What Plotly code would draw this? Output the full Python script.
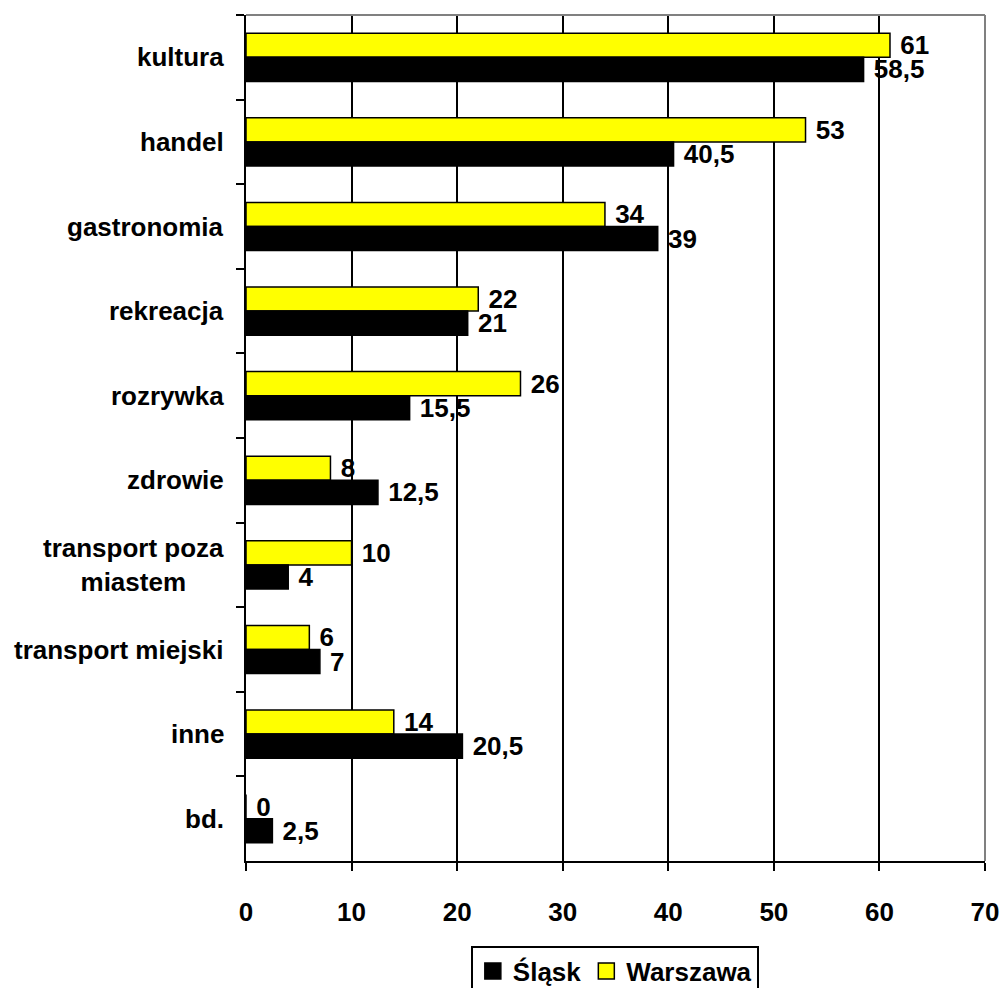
import plotly.graph_objects as go

# Categories (top to bottom) and the share for each region
categories = ["kultura", "handel", "gastronomia", "rekreacja", "rozrywka", "zdrowie",
              "transport poza miastem", "transport miejski", "inne", "bd."]
category_labels = ["kultura", "handel", "gastronomia", "rekreacja", "rozrywka", "zdrowie",
                   "transport poza<br>miastem", "transport miejski", "inne", "bd."]
warszawa = [61, 53, 34, 22, 26, 8, 10, 6, 14, 0]
slask = [58.5, 40.5, 39, 21, 15.5, 12.5, 4, 7, 20.5, 2.5]
x_ticks = [0, 10, 20, 30, 40, 50, 60, 70]

FONT = "Liberation Sans, Arial, sans-serif"
FS = 26


def fmt(v):
    # Polish decimal comma, with a non-breaking space as gap from the bar end
    return "\u00a0" + f"{v:g}".replace(".", ",")


fig = go.Figure()

# Warszawa first so it sits above Śląsk within each category (reversed axis)
fig.add_trace(go.Bar(
    y=categories, x=warszawa, orientation="h", name="Warszawa",
    marker=dict(color="#ffff00", line=dict(color="#000000", width=1.5)),
    text=[fmt(v) for v in warszawa], textposition="outside",
    textfont=dict(family=FONT, size=FS, color="#000000", weight="bold"),
    constraintext="none", cliponaxis=False, showlegend=False,
))
fig.add_trace(go.Bar(
    y=categories, x=slask, orientation="h", name="Śląsk",
    marker=dict(color="#000000", line=dict(color="#000000", width=1.5)),
    text=[fmt(v) for v in slask], textposition="outside",
    textfont=dict(family=FONT, size=FS, color="#000000", weight="bold"),
    constraintext="none", cliponaxis=False, showlegend=False,
))

# Legend entries with larger square swatches
fig.add_trace(go.Scatter(
    x=[None], y=[None], mode="markers", name="Śląsk", legendrank=1,
    marker=dict(symbol="square", size=16, color="#000000",
                line=dict(color="#000000", width=1.5)),
))
fig.add_trace(go.Scatter(
    x=[None], y=[None], mode="markers", name="Warszawa", legendrank=2,
    marker=dict(symbol="square", size=16, color="#ffff00",
                line=dict(color="#000000", width=1.5)),
))

# Category labels, centred line-by-line
for cat, lab in zip(categories, category_labels):
    fig.add_annotation(
        x=0, xref="paper", y=cat, yref="y", text=lab, showarrow=False,
        xanchor="right", yanchor="middle", align="center", xshift=-20,
        font=dict(family=FONT, size=FS, color="#000000", weight="bold"),
    )

# Grey frame on the top and right of the plotting area
fig.add_shape(type="line", xref="paper", yref="paper", x0=0, x1=1, y0=1, y1=1,
              line=dict(color="#808080", width=2), layer="above")
fig.add_shape(type="line", xref="paper", yref="paper", x0=1, x1=1, y0=0, y1=1,
              line=dict(color="#808080", width=2), layer="above")

fig.update_layout(
    width=1003, height=988,
    margin=dict(l=246, r=18, t=15, b=127, autoexpand=False),
    paper_bgcolor="#ffffff", plot_bgcolor="#ffffff",
    font=dict(family=FONT, size=FS, color="#000000", weight="bold"),
    barmode="group", bargap=0.43, bargroupgap=0,
    showlegend=True,
    legend=dict(
        orientation="h", xref="container", yref="container",
        x=0.613, xanchor="center", y=0.043, yanchor="top",
        bordercolor="#000000", borderwidth=2, bgcolor="#ffffff",
        font=dict(family=FONT, size=FS, color="#000000", weight="bold"),
        itemsizing="trace", tracegroupgap=0,
    ),
    xaxis=dict(
        range=[0, 70], tickvals=x_ticks, ticktext=[str(t) for t in x_ticks],
        showgrid=True, gridcolor="#000000", gridwidth=2,
        showline=True, linecolor="#000000", linewidth=2,
        ticks="outside", ticklen=8, tickwidth=2, tickcolor="#000000",
        ticklabelstandoff=19, automargin=False,
        zeroline=False, fixedrange=True,
        tickfont=dict(family=FONT, size=FS, color="#000000", weight="bold"),
    ),
    yaxis=dict(
        type="category", categoryorder="array", categoryarray=categories,
        autorange="reversed", showticklabels=False, showgrid=False,
        showline=True, linecolor="#000000", linewidth=2,
        ticks="outside", tickson="boundaries", ticklen=8, tickwidth=2,
        tickcolor="#000000", zeroline=False, fixedrange=True, automargin=False,
    ),
)

fig.write_html("out.html")
